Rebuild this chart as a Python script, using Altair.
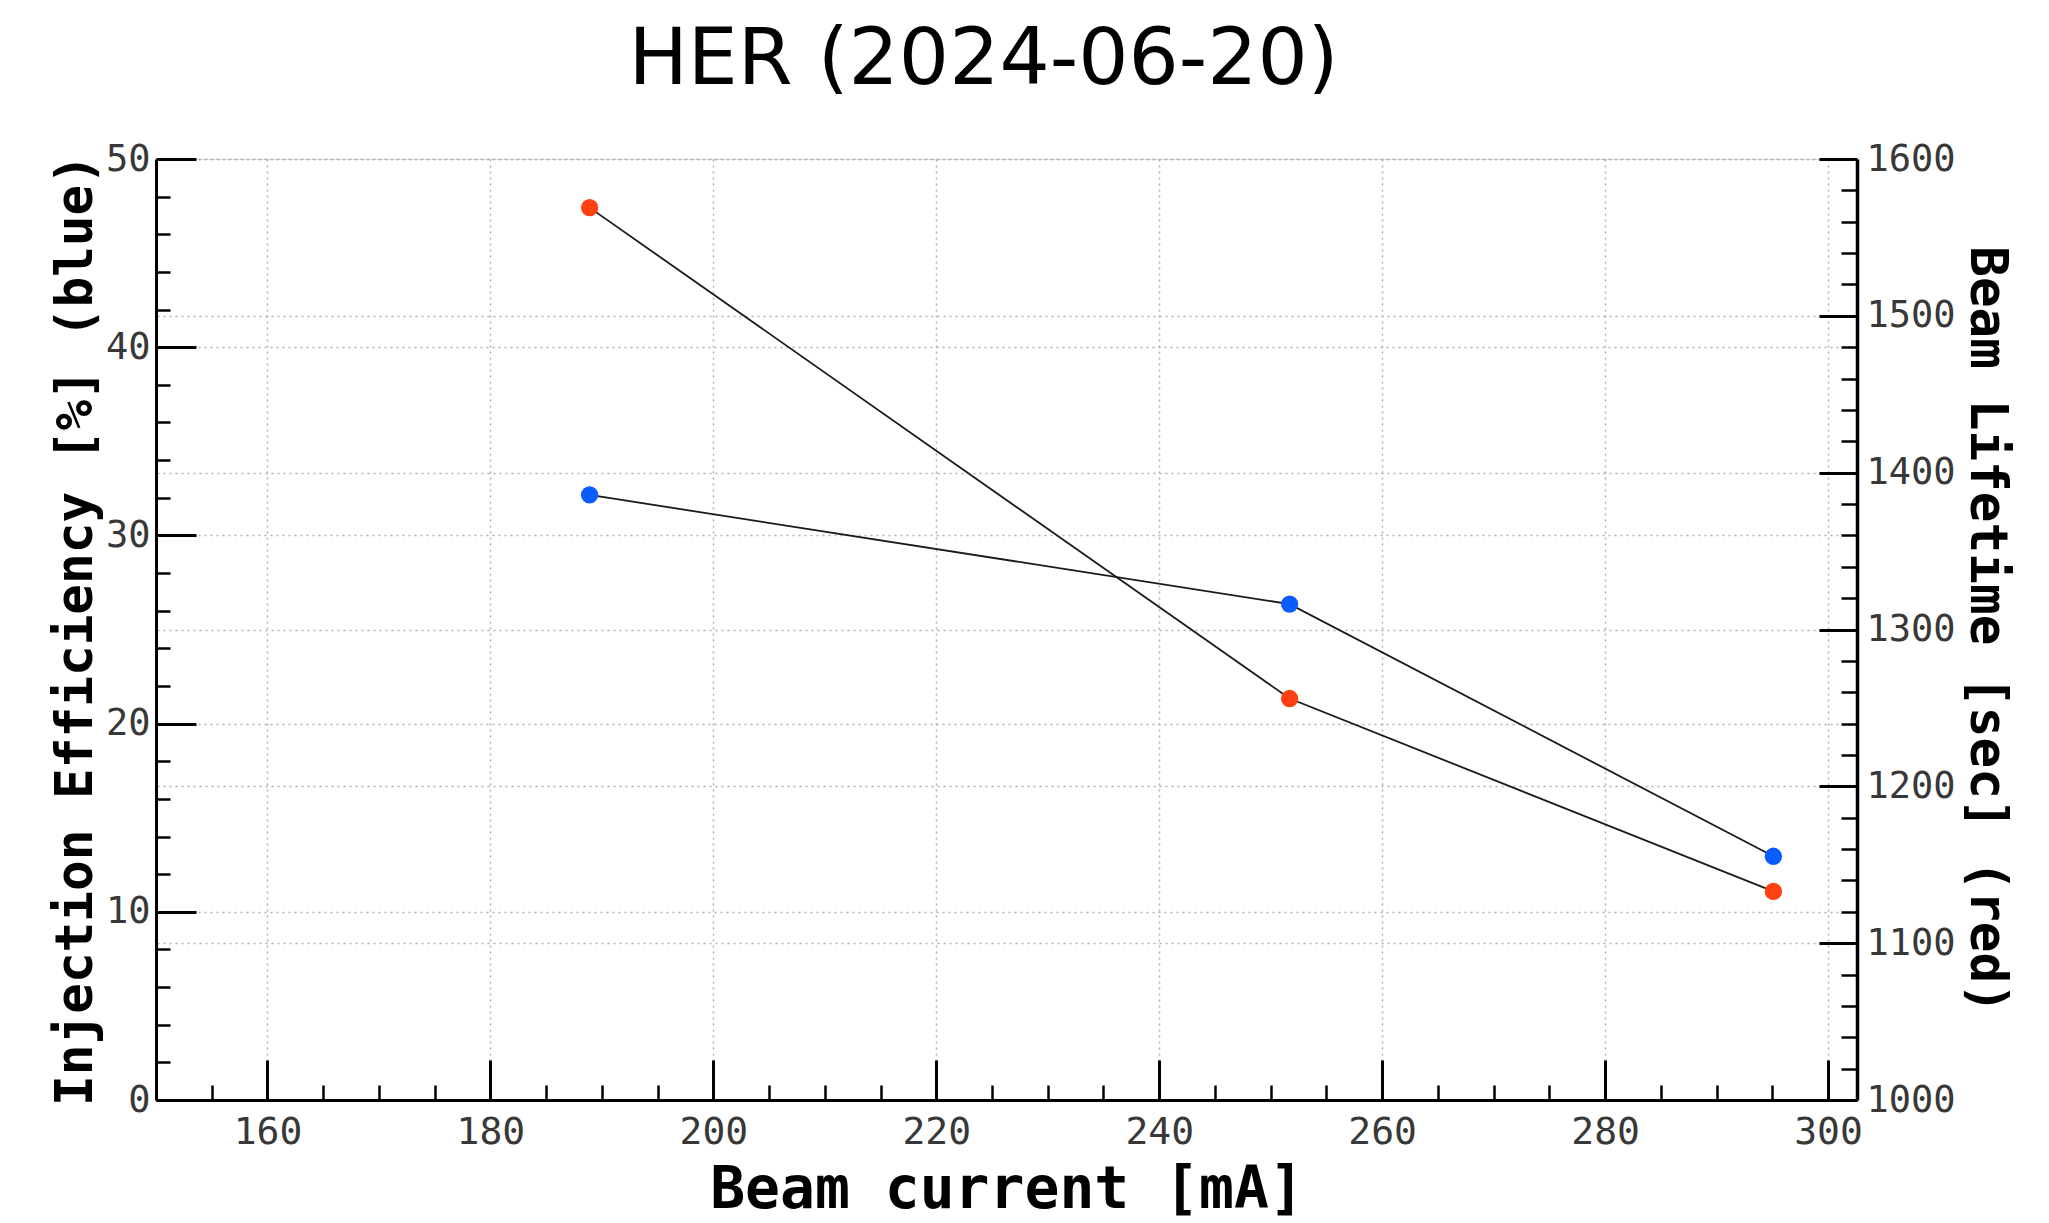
import altair as alt
import pandas as pd

# ---- data ----
current_mA = [188.9, 251.7, 295.1]
efficiency_pct = [32.15, 26.35, 12.95]
lifetime_sec = [1569, 1256, 1133]

# ---- tick values ----
x_major = [160, 180, 200, 220, 240, 260, 280, 300]
x_minor = [155, 165, 170, 175, 185, 190, 195, 205, 210, 215, 225, 230, 235,
           245, 250, 255, 265, 270, 275, 285, 290, 295]
yl_major = [0, 10, 20, 30, 40, 50]
yl_minor = [2, 4, 6, 8, 12, 14, 16, 18, 22, 24, 26, 28, 32, 34, 36, 38,
            42, 44, 46, 48]
yr_major = [1000, 1100, 1200, 1300, 1400, 1500, 1600]
yr_minor = [1020, 1040, 1060, 1080, 1120, 1140, 1160, 1180, 1220, 1240, 1260,
            1280, 1320, 1340, 1360, 1380, 1420, 1440, 1460, 1480, 1520, 1540,
            1560, 1580]

df = pd.DataFrame({"current": current_mA, "eff": efficiency_pct, "life": lifetime_sec})

W, H = 1701, 941
MONO = "DejaVu Sans Mono"
BLUE = "#0a5cff"
RED = "#ff4010"
GRID = dict(grid=True, gridColor="#b0b0b0", gridDash=[2, 4], gridWidth=1.5)

xscale = alt.Scale(domain=[150, 302.6], nice=False, zero=False)
ylscale = alt.Scale(domain=[0, 50], nice=False, zero=False)
yrscale = alt.Scale(domain=[1000, 1600], nice=False, zero=False)

x_main_axis = alt.Axis(orient="bottom", values=x_major, ticks=False, tickSize=0,
                       format="d",
                       labelFont=MONO, labelFontSize=38, labelColor="#383838",
                       labelPadding=13, domainColor="black", domainWidth=3,
                       title="Beam current [mA]", titleFont=MONO, titleFontSize=58,
                       titleFontWeight="bold", titleColor="black",
                       titleBaseline="alphabetic", titleX=W / 2, titleY=107,
                       **GRID)
yl_main_axis = alt.Axis(orient="left", values=yl_major, ticks=False, tickSize=0,
                        format="d",
                        labelFont=MONO, labelFontSize=37, labelColor="#383838",
                        labelPadding=6, domainColor="black", domainWidth=3,
                        title="Injection Efficiency [%] (blue)", titleFont=MONO,
                        titleFontSize=51, titleFontWeight="bold", titleColor="black",
                        titleBaseline="alphabetic", titleAngle=270, titleX=-65,
                        titleY=H / 2, **GRID)
yr_main_axis = alt.Axis(orient="right", values=yr_major, ticks=False, tickSize=0,
                        format="d",
                        labelFont=MONO, labelFontSize=37, labelColor="#383838",
                        labelPadding=9, domainColor="black", domainWidth=3.5,
                        title="Beam Lifetime [sec] (red)", titleFont=MONO,
                        titleFontSize=51, titleFontWeight="bold", titleColor="black",
                        titleBaseline="alphabetic", titleAngle=90, titleX=113,
                        titleY=H / 2, **GRID)

base = alt.Chart(df)

blue = alt.layer(
    base.mark_line(color="#1a1a1a", strokeWidth=1.8).encode(
        x=alt.X("current:Q", scale=xscale, axis=x_main_axis),
        y=alt.Y("eff:Q", scale=ylscale, axis=yl_main_axis)),
    base.mark_circle(color=BLUE, size=300, opacity=1).encode(
        x=alt.X("current:Q", scale=xscale),
        y=alt.Y("eff:Q", scale=ylscale)),
)

red = alt.layer(
    base.mark_line(color="#1a1a1a", strokeWidth=1.8).encode(
        x=alt.X("current:Q", scale=xscale, axis=None),
        y=alt.Y("life:Q", scale=yrscale, axis=yr_main_axis)),
    base.mark_circle(color=RED, size=300, opacity=1).encode(
        x=alt.X("current:Q", scale=xscale, axis=None),
        y=alt.Y("life:Q", scale=yrscale)),
)


def tick_axis(orient, values, size, width):
    return alt.Axis(orient=orient, offset=-(H if orient == "top" else W),
                    values=values, tickSize=size, tickWidth=width,
                    tickColor="black", labels=False, domain=False, grid=False,
                    title=None)


tx_major = base.mark_point(opacity=0).encode(
    x=alt.X("current:Q", scale=xscale, axis=tick_axis("top", x_major, 40, 3)))
tx_minor = base.mark_point(opacity=0).encode(
    x=alt.X("current:Q", scale=xscale, axis=tick_axis("top", x_minor, 15, 2.5)))
tl_major = base.mark_point(opacity=0).encode(
    y=alt.Y("eff:Q", scale=ylscale, axis=tick_axis("right", yl_major, 40, 3)))
tl_minor = base.mark_point(opacity=0).encode(
    y=alt.Y("eff:Q", scale=ylscale, axis=tick_axis("right", yl_minor, 14, 2.5)))
tr_major = base.mark_point(opacity=0).encode(
    y=alt.Y("life:Q", scale=yrscale, axis=tick_axis("left", yr_major, 38, 3)))
tr_minor = base.mark_point(opacity=0).encode(
    y=alt.Y("life:Q", scale=yrscale, axis=tick_axis("left", yr_minor, 16, 2.5)))

chart = alt.layer(
    tx_major, tx_minor, tl_major, tl_minor, tr_major, tr_minor, blue, red
).resolve_scale(
    x="independent", y="independent"
).properties(
    width=W, height=H,
    padding={"left": 148, "top": 151, "right": 180, "bottom": 122},
    autosize=alt.AutoSizeParams(type="none"),
    title=alt.TitleParams("HER (2024-06-20)", font="DejaVu Sans", fontSize=79,
                          fontWeight="normal", color="black", anchor="middle",
                          baseline="alphabetic", offset=-23, dx=-23),
).configure_view(
    stroke="#999", strokeWidth=3
).configure(background="white")

chart.save("out.html", embed_options={"renderer": "svg", "actions": False})
